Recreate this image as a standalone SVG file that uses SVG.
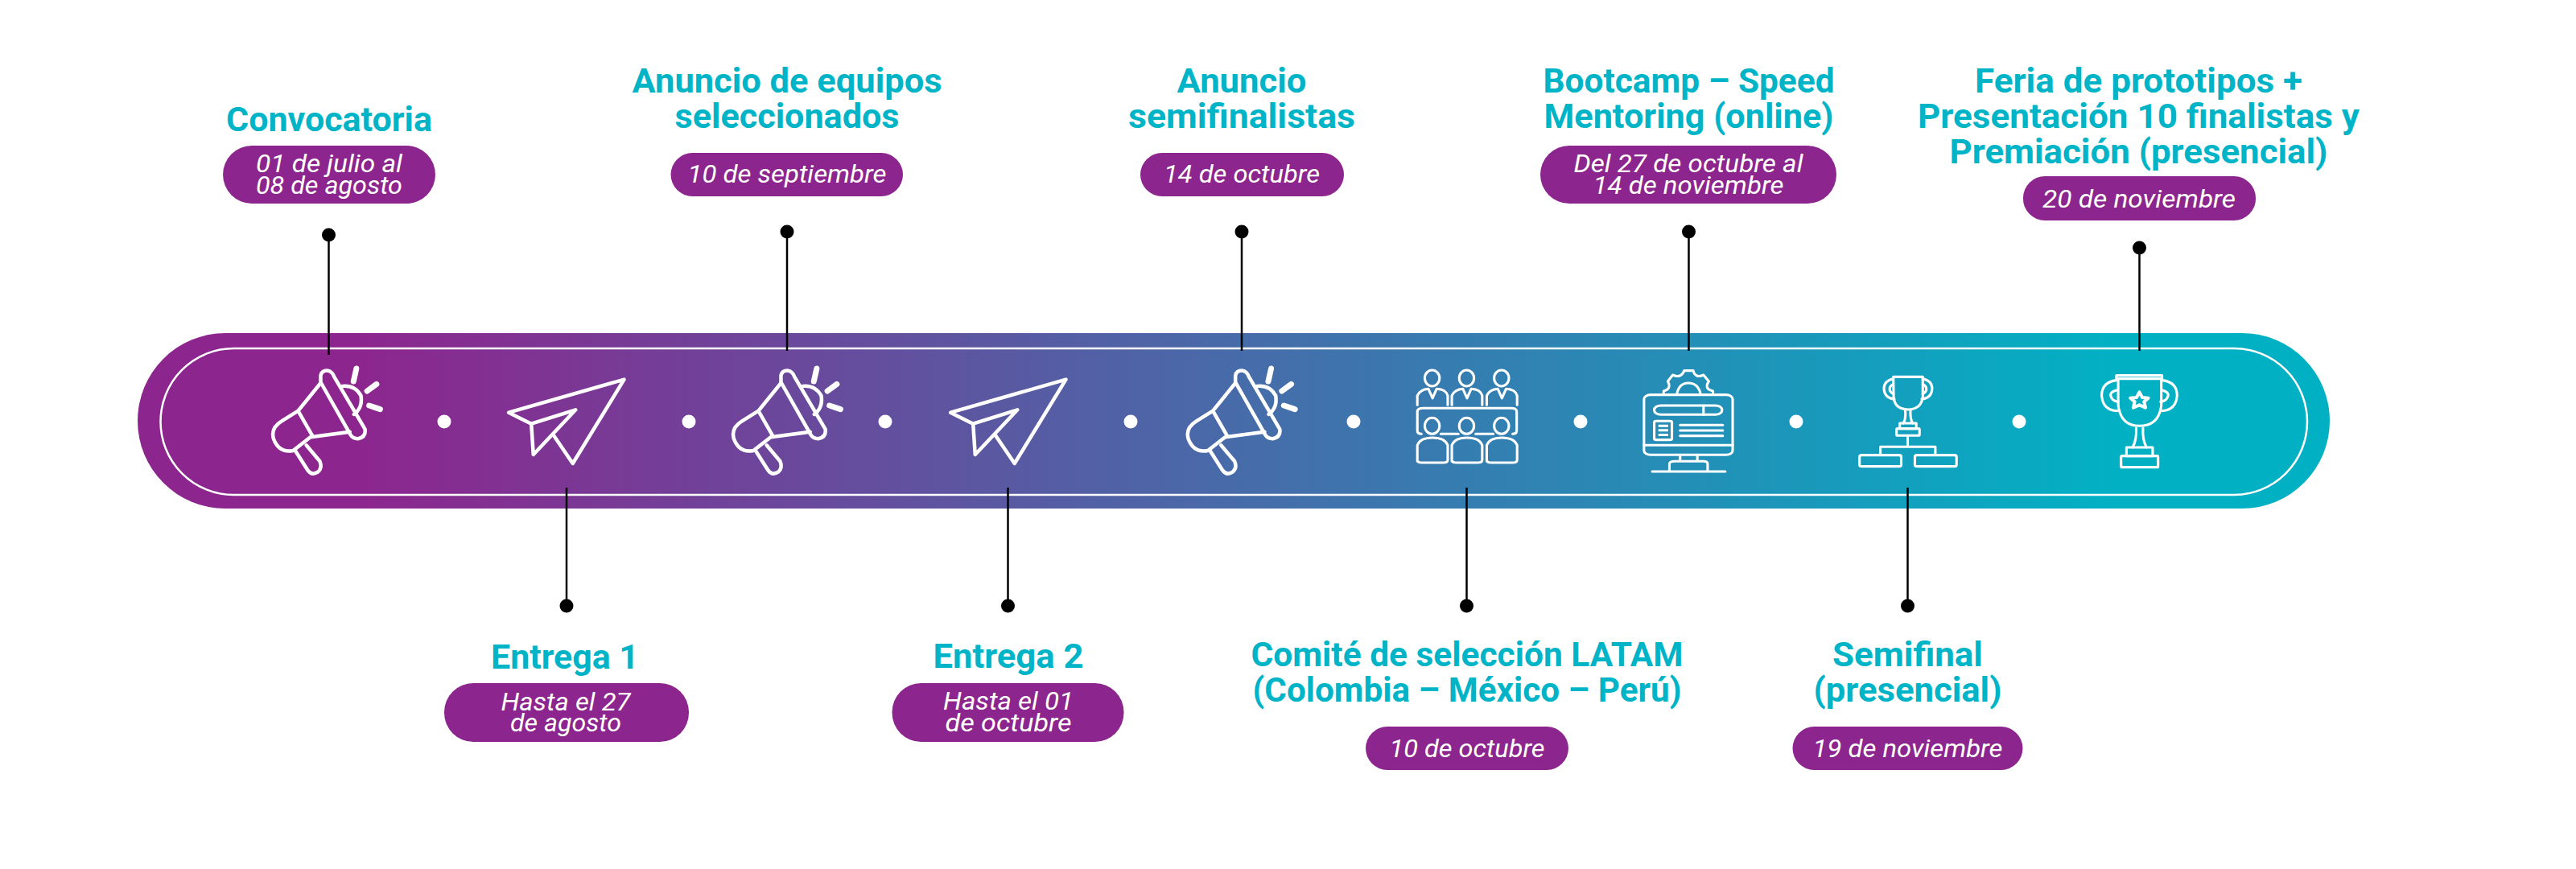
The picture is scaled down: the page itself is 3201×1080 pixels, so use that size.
<svg xmlns="http://www.w3.org/2000/svg" width="3201" height="1080" viewBox="0 0 3201 1080">
<style>
.t{font-family:Roboto,"Liberation Sans",sans-serif;font-weight:700;font-size:43px;fill:#00b4c8;text-anchor:middle}
.d{font-family:Roboto,"Liberation Sans",sans-serif;font-weight:400;font-style:italic;font-size:32px;fill:#fff;text-anchor:middle}
.p{fill:#8c268e}
.c line{stroke:#000;stroke-width:2.5}
.c circle{fill:#000}
.m,.th,.ray,.st{fill:none;stroke:#fff;stroke-linecap:round;stroke-linejoin:round;vector-effect:non-scaling-stroke}
.m{stroke-width:4.5}
.th{stroke-width:3.1}
.st{stroke-width:4}
.ray{stroke-width:7}
.s{fill:#fff;stroke:none}
.dot{fill:#fff}
</style>
<defs>
<linearGradient id="g" gradientUnits="userSpaceOnUse" x1="450" y1="0" x2="2620" y2="0">
<stop offset="0" stop-color="#8c268e"/><stop offset="1" stop-color="#02b0c4"/>
</linearGradient>
<g id="mega">
<path class="m" d="M487,200Q490,180 505,182Q515,185 520,205L595,400Q598,430 578,436Q565,435 560,422L487,225Z"/>
<path class="m" d="M487,228L432,332L392,370Q365,395 372,435Q385,490 420,480L462,430L558,410M432,332L468,428"/>
<path class="m" d="M425,480L455,552Q465,575 480,560Q492,545 485,520L452,460"/>
<path class="m" d="M540,240Q570,235 585,275Q590,320 568,345"/>
<path class="ray" d="M574,174L567,222M623,232L600,258M605,312L632,326"/>
</g>
<g id="plane">
<path class="m" d="M1000,380L945,338L1226,215L1101,528L1053,420"/>
<path class="m" d="M1000,380L1108,328L1005,495Z"/>
</g>
<g id="person">
<ellipse class="th" cx="744" cy="210" rx="18" ry="30"/><path class="th" d="M708,310L708,275Q715,252 735,250L745,285L755,250Q778,252 782,275L782,310"/><ellipse class="th" cx="744" cy="388" rx="18" ry="30"/><path class="th" d="M708,520L708,460Q715,432 745,432Q775,432 782,460L782,515Q782,525 770,525L720,525Q708,525 708,515Z"/>
</g>
</defs>

<g id="bar">
<rect x="171" y="414" width="2724" height="218" rx="109" ry="109" fill="url(#g)"/>
<rect x="199.500" y="433" width="2667.500" height="182" rx="91" ry="91" fill="none" stroke="#fff" stroke-width="2.500"/>
<g class="dot"><circle cx="552" cy="524" r="8.500"/><circle cx="856" cy="524" r="8.500"/><circle cx="1100" cy="524" r="8.500"/><circle cx="1405" cy="524" r="8.500"/><circle cx="1682" cy="524" r="8.500"/><circle cx="1964" cy="524" r="8.500"/><circle cx="2232" cy="524" r="8.500"/><circle cx="2509" cy="524" r="8.500"/></g>
</g>

<g id="connectors" class="c">
<line x1="408.500" y1="292" x2="408.500" y2="441"/><circle cx="408.500" cy="292" r="8.500"/>
<line x1="704" y1="606" x2="704" y2="753"/><circle cx="704" cy="753" r="8.500"/>
<line x1="978" y1="288" x2="978" y2="436"/><circle cx="978" cy="288" r="8.500"/>
<line x1="1252.500" y1="606" x2="1252.500" y2="753"/><circle cx="1252.500" cy="753" r="8.500"/>
<line x1="1543" y1="288" x2="1543" y2="436"/><circle cx="1543" cy="288" r="8.500"/>
<line x1="1822.500" y1="606" x2="1822.500" y2="753"/><circle cx="1822.500" cy="753" r="8.500"/>
<line x1="2098.500" y1="288" x2="2098.500" y2="436"/><circle cx="2098.500" cy="288" r="8.500"/>
<line x1="2370.500" y1="606" x2="2370.500" y2="753"/><circle cx="2370.500" cy="753" r="8.500"/>
<line x1="2658.500" y1="308" x2="2658.500" y2="436"/><circle cx="2658.500" cy="308" r="8.500"/>
</g>

<g id="n1">
<g transform="translate(150,400) scale(.5102,.3333)"><use href="#mega"/></g>
<text class="t" x="409" y="163" textLength="256" lengthAdjust="spacingAndGlyphs">Convocatoria</text>
<rect class="p" x="277" y="181" width="264" height="72" rx="36"/>
<text class="d" x="409" y="214" textLength="182" lengthAdjust="spacingAndGlyphs">01 de julio al</text>
<text class="d" x="409" y="241" textLength="182" lengthAdjust="spacingAndGlyphs">08 de agosto</text>
</g>
<g id="n2">
<g transform="translate(150,400) scale(.5102,.3333)"><use href="#plane"/></g>
<text class="t" x="702" y="831" textLength="184" lengthAdjust="spacingAndGlyphs">Entrega 1</text>
<rect class="p" x="552" y="849" width="304" height="73" rx="36"/>
<text class="d" x="703" y="883" textLength="161" lengthAdjust="spacingAndGlyphs">Hasta el 27</text>
<text class="d" x="703" y="909" textLength="138" lengthAdjust="spacingAndGlyphs">de agosto</text>
</g>
<g id="n3">
<g transform="translate(722,400) scale(.5102,.3333)"><use href="#mega"/></g>
<text class="t" x="978" y="115" textLength="385" lengthAdjust="spacingAndGlyphs">Anuncio de equipos</text>
<text class="t" x="978" y="159" textLength="279" lengthAdjust="spacingAndGlyphs">seleccionados</text>
<rect class="p" x="833.500" y="190" width="288.500" height="54" rx="27"/>
<text class="d" x="978" y="227" textLength="247" lengthAdjust="spacingAndGlyphs">10 de septiembre</text>
</g>
<g id="n4">
<g transform="translate(699,400) scale(.5102,.3333)"><use href="#plane"/></g>
<text class="t" x="1253" y="830" textLength="187" lengthAdjust="spacingAndGlyphs">Entrega 2</text>
<rect class="p" x="1108.500" y="849" width="288" height="73" rx="36"/>
<text class="d" x="1253" y="882" textLength="162" lengthAdjust="spacingAndGlyphs">Hasta el 01</text>
<text class="d" x="1253" y="909" textLength="157" lengthAdjust="spacingAndGlyphs">de octubre</text>
</g>
<g id="n5">
<g transform="translate(1286.700,400) scale(.5102,.3333)"><use href="#mega"/></g>
<text class="t" x="1543" y="115" textLength="161" lengthAdjust="spacingAndGlyphs">Anuncio</text>
<text class="t" x="1543" y="159" textLength="282" lengthAdjust="spacingAndGlyphs">semifinalistas</text>
<rect class="p" x="1417" y="190" width="253" height="54" rx="27"/>
<text class="d" x="1543" y="227" textLength="194" lengthAdjust="spacingAndGlyphs">14 de octubre</text>
</g>
<g id="n6">
<g transform="translate(1400,400) scale(.5102,.3333)">
<use href="#person"/><use href="#person" x="84"/><use href="#person" x="169"/>
<path class="th" d="M718,418Q708,418 708,405L708,335Q708,322 722,322L936,322Q950,322 950,335L950,405Q950,418 940,418M765,418L808,418M850,418L893,418"/>
</g>
<text class="t" x="1823" y="828" textLength="537" lengthAdjust="spacingAndGlyphs">Comité de selección LATAM</text>
<text class="t" x="1823" y="872" textLength="533" lengthAdjust="spacingAndGlyphs">(Colombia – México – Perú)</text>
<rect class="p" x="1697" y="903" width="252" height="54" rx="27"/>
<text class="d" x="1823" y="941" textLength="193" lengthAdjust="spacingAndGlyphs">10 de octubre</text>
</g>
<g id="n7">
<g transform="translate(1400,400) scale(.5102,.3333)">
<rect class="th" x="1260" y="272" width="216" height="224" rx="16"/>
<path class="th" d="M1260,460L1476,460"/>
<rect class="th" x="1285" y="312" width="165" height="34" rx="16"/>
<path class="th" d="M1405,312L1405,346"/>
<rect class="th" x="1285" y="370" width="43" height="70" rx="5"/>
<path class="s" d="M1295,383h24v9h-24zM1295,400h24v9h-24zM1295,417h24v9h-24z"/>
<path class="th" d="M1348,385L1452,385M1348,405L1452,405M1348,425L1452,425"/>
<path class="th" d="M1348,496L1348,520M1390,496L1390,520M1322,555L1322,530Q1322,520 1335,520L1405,520Q1415,520 1415,530L1415,555M1280,558L1458,558"/>
<path class="th" d="M1308,268L1308,258Q1328,250 1318,222L1330,198Q1350,212 1358,182L1380,182Q1385,212 1405,198L1418,222Q1405,250 1428,258L1428,268"/>
<path class="th" d="M1340,270Q1345,228 1368,228Q1392,228 1398,270"/>
</g>
<text class="t" x="2098.500" y="115" textLength="362" lengthAdjust="spacingAndGlyphs">Bootcamp – Speed</text>
<text class="t" x="2098.500" y="159" textLength="360" lengthAdjust="spacingAndGlyphs">Mentoring (online)</text>
<rect class="p" x="1914" y="181" width="368" height="72" rx="36"/>
<text class="d" x="2098" y="214" textLength="285" lengthAdjust="spacingAndGlyphs">Del 27 de octubre al</text>
<text class="d" x="2098" y="241" textLength="237" lengthAdjust="spacingAndGlyphs">14 de noviembre</text>
</g>
<g id="n8">
<g transform="translate(2200,400) scale(.4464,.3333)">
<path class="th" d="M342,205L424,205L424,280Q420,325 383,327Q345,325 343,280Z"/>
<path class="th" d="M342,212Q315,220 316,250Q318,285 345,288M342,232Q330,240 332,255Q335,265 342,268M424,212Q451,220 450,250Q448,285 421,288M424,232Q436,240 434,255Q431,265 424,268"/>
<path class="th" d="M375,328Q378,360 370,378M390,328Q388,360 396,378"/>
<rect class="th" x="360" y="378" width="46" height="20"/>
<rect class="th" x="351" y="398" width="64" height="26" rx="3"/>
<path class="th" d="M382,424L382,466M306,495L306,466L459,466L459,495"/>
<rect class="th" x="248" y="497" width="116" height="42" rx="6"/>
<rect class="th" x="402" y="497" width="116" height="42" rx="6"/>
</g>
<text class="t" x="2370.500" y="828" textLength="187" lengthAdjust="spacingAndGlyphs">Semifinal</text>
<text class="t" x="2370.500" y="872" textLength="234" lengthAdjust="spacingAndGlyphs">(presencial)</text>
<rect class="p" x="2227.500" y="903" width="286" height="54" rx="27"/>
<text class="d" x="2370.500" y="941" textLength="236" lengthAdjust="spacingAndGlyphs">19 de noviembre</text>
</g>
<g id="n9">
<g transform="translate(2200,400) scale(.4464,.3333)">
<path class="th" d="M963,212L963,200L1090,200L1090,212Z"/>
<path class="th" d="M968,212L968,310Q975,388 1027,388Q1082,388 1088,310L1088,212"/>
<path class="th" d="M963,218Q922,225 922,275Q925,330 965,332M963,255Q945,262 947,275Q950,295 968,298M1091,218Q1132,225 1132,275Q1129,330 1089,332M1091,255Q1109,262 1107,275Q1104,295 1086,298"/>
<path class="th" d="M1018,396Q1020,440 1008,468M1037,396Q1035,440 1047,468"/>
<rect class="th" x="991" y="468" width="73" height="32"/>
<rect class="th" x="976" y="500" width="103" height="42" rx="3"/>
<path class="st" d="M1027,262L1035,282L1052,284L1040,298L1044,320L1027,310L1010,320L1014,298L1002,284L1019,282Z"/>
</g>
<text class="t" x="2657.500" y="115" textLength="407" lengthAdjust="spacingAndGlyphs">Feria de prototipos +</text>
<text class="t" x="2657.500" y="159" textLength="549" lengthAdjust="spacingAndGlyphs">Presentación 10 finalistas y</text>
<text class="t" x="2657.500" y="203" textLength="470" lengthAdjust="spacingAndGlyphs">Premiación (presencial)</text>
<rect class="p" x="2514" y="219" width="289" height="55" rx="27"/>
<text class="d" x="2658" y="258" textLength="240" lengthAdjust="spacingAndGlyphs">20 de noviembre</text>
</g>
</svg>
